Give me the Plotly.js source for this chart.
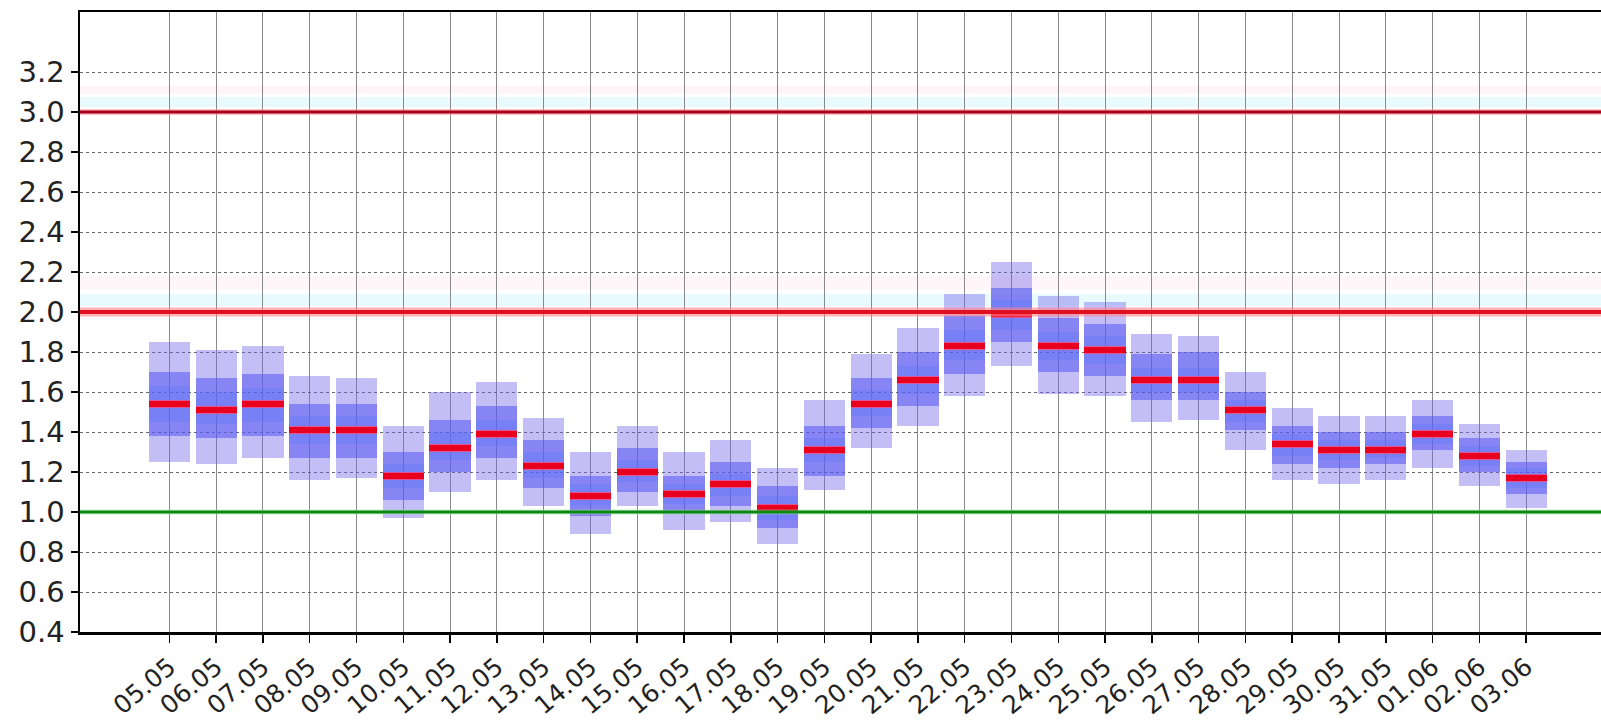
<!DOCTYPE html>
<html>
<head>
<meta charset="utf-8">
<script src="https://cdn.plot.ly/plotly-3.0.1.min.js"></script>
<style>html,body{margin:0;padding:0;background:#fff;}#chart{width:1601px;height:721px;}</style>
</head>
<body>
<div id="chart"></div>
<script>
// Day labels
const days = ["05.05","06.05","07.05","08.05","09.05","10.05","11.05","12.05","13.05","14.05",
  "15.05","16.05","17.05","18.05","19.05","20.05","21.05","22.05","23.05","24.05",
  "25.05","26.05","27.05","28.05","29.05","30.05","31.05","01.06","02.06","03.06"];
// Outer band (light)
const outerLo = [1.25,1.24,1.27,1.16,1.17,0.97,1.10,1.16,1.03,0.89,1.03,0.91,0.95,0.84,1.11,1.32,1.43,1.58,1.73,1.59,1.58,1.45,1.46,1.31,1.16,1.14,1.16,1.22,1.13,1.02];
const outerHi = [1.85,1.81,1.83,1.68,1.67,1.43,1.60,1.65,1.47,1.30,1.43,1.30,1.36,1.22,1.56,1.79,1.92,2.09,2.25,2.08,2.05,1.89,1.88,1.70,1.52,1.48,1.48,1.56,1.44,1.31];
// Middle band
const midLo = [1.38,1.37,1.38,1.27,1.27,1.06,1.20,1.27,1.12,0.98,1.10,1.00,1.03,0.92,1.18,1.42,1.53,1.69,1.85,1.70,1.68,1.56,1.56,1.41,1.24,1.22,1.24,1.31,1.20,1.09];
const midHi = [1.70,1.67,1.69,1.54,1.54,1.30,1.46,1.53,1.36,1.18,1.32,1.18,1.25,1.13,1.43,1.67,1.80,1.98,2.12,1.97,1.94,1.79,1.80,1.60,1.43,1.40,1.40,1.48,1.37,1.25];
// Inner band
const innerLo = [1.45,1.44,1.45,1.34,1.34,1.12,1.26,1.33,1.17,1.03,1.15,1.04,1.08,0.96,1.25,1.48,1.59,1.76,1.91,1.76,1.74,1.60,1.60,1.45,1.28,1.26,1.27,1.34,1.23,1.12];
const innerHi = [1.63,1.60,1.62,1.48,1.48,1.24,1.40,1.46,1.30,1.14,1.26,1.14,1.19,1.08,1.37,1.61,1.73,1.91,2.06,1.90,1.88,1.72,1.72,1.56,1.39,1.36,1.36,1.44,1.33,1.22];
// Median
const median = [1.54,1.51,1.54,1.41,1.41,1.18,1.32,1.39,1.23,1.08,1.20,1.09,1.14,1.02,1.31,1.54,1.66,1.83,1.99,1.83,1.81,1.66,1.66,1.51,1.34,1.31,1.31,1.39,1.28,1.17];
// Reference levels
const levels = [3.0, 2.0, 1.0];
const yTicks = [0.4,0.6,0.8,1.0,1.2,1.4,1.6,1.8,2.0,2.2,2.4,2.6,2.8,3.0,3.2];

const xs = days.map((d,i)=>i);
const W = 0.88;
function band(lo, hi, color){
  return {type:'bar', x:xs, base:lo, y:hi.map((h,i)=>h-lo[i]), width:W,
    marker:{color:color, line:{width:0}}, hoverinfo:'skip', showlegend:false};
}
const MT = 0.036;
const traces = [
  band(outerLo, outerHi, 'rgba(115,100,235,0.42)'),
  band(midLo, midHi, 'rgba(85,85,240,0.55)'),
  band(innerLo, innerHi, 'rgba(90,120,250,0.35)'),
  {type:'bar', x:xs, base:median.map(m=>m-MT/2), y:median.map(()=>MT), width:W,
    marker:{color:'rgba(255,70,120,0.75)', line:{width:0}}, hoverinfo:'skip', showlegend:false},
  {type:'bar', x:xs, base:median.map(m=>m-MT*0.36), y:median.map(()=>MT*0.72), width:W,
    marker:{color:'#e8001e', line:{width:0}}, hoverinfo:'skip', showlegend:false}
];

const lvlStyle = {
  3.0:{color:'#a8001c', width:3, halo:'rgba(255,140,150,0.55)', hw:6},
  2.0:{color:'#e0101f', width:4, halo:'rgba(255,130,140,0.6)', hw:9},
  1.0:{color:'#0e8a14', width:3, halo:'rgba(150,220,150,0.5)', hw:5}
};
const shapes = [];
// faint tinted strips near thresholds (as in reference)
[[3.025,3.075,'rgba(205,245,250,0.45)'],[3.09,3.13,'rgba(255,230,238,0.4)'],
 [2.03,2.09,'rgba(205,245,250,0.45)'],[2.11,2.18,'rgba(255,230,238,0.35)']].forEach(b=>{
  shapes.push({type:'rect', xref:'paper', x0:0, x1:1, yref:'y', y0:b[0], y1:b[1],
    fillcolor:b[2], line:{width:0}, layer:'below'});
});
levels.forEach(v=>{
  const s = lvlStyle[v];
  shapes.push({type:'line', xref:'paper', x0:0, x1:1, yref:'y', y0:v, y1:v,
    line:{color:s.halo, width:s.hw}, layer:'above'});
  shapes.push({type:'line', xref:'paper', x0:0, x1:1, yref:'y', y0:v, y1:v,
    line:{color:s.color, width:s.width}, layer:'above'});
});

const layout = {
  width:1601, height:721,
  margin:{l:80, r:0, t:12, b:89},
  paper_bgcolor:'#fff', plot_bgcolor:'#fff',
  barmode:'overlay', bargap:0,
  showlegend:false,
  font:{family:'"DejaVu Sans", sans-serif', color:'#222'},
  xaxis:{
    range:[-1.91, 30.6], tickmode:'array', tickvals:xs, ticktext:days,
    tickangle:-40, tickfont:{size:25},
    ticks:'outside', ticklen:8, tickwidth:1.5, tickcolor:'#000',
    showgrid:true, gridcolor:'#8a8a8a', gridwidth:1,
    showline:true, linecolor:'#000', linewidth:2.5, mirror:true,
    zeroline:false, fixedrange:true
  },
  yaxis:{
    range:[0.4, 3.5], tickmode:'array', tickvals:yTicks, ticktext:yTicks.map(v=>v.toFixed(1)),
    tickfont:{size:29},
    ticks:'outside', ticklen:7, tickwidth:2, tickcolor:'#000',
    showgrid:true, gridcolor:'#666', gridwidth:1, griddash:'dot',
    showline:true, linecolor:'#000', linewidth:2.5,
    zeroline:false, fixedrange:true
  },
  shapes:shapes
};

Plotly.newPlot('chart', traces, layout, {staticPlot:true, displayModeBar:false});
</script>
</body>
</html>
